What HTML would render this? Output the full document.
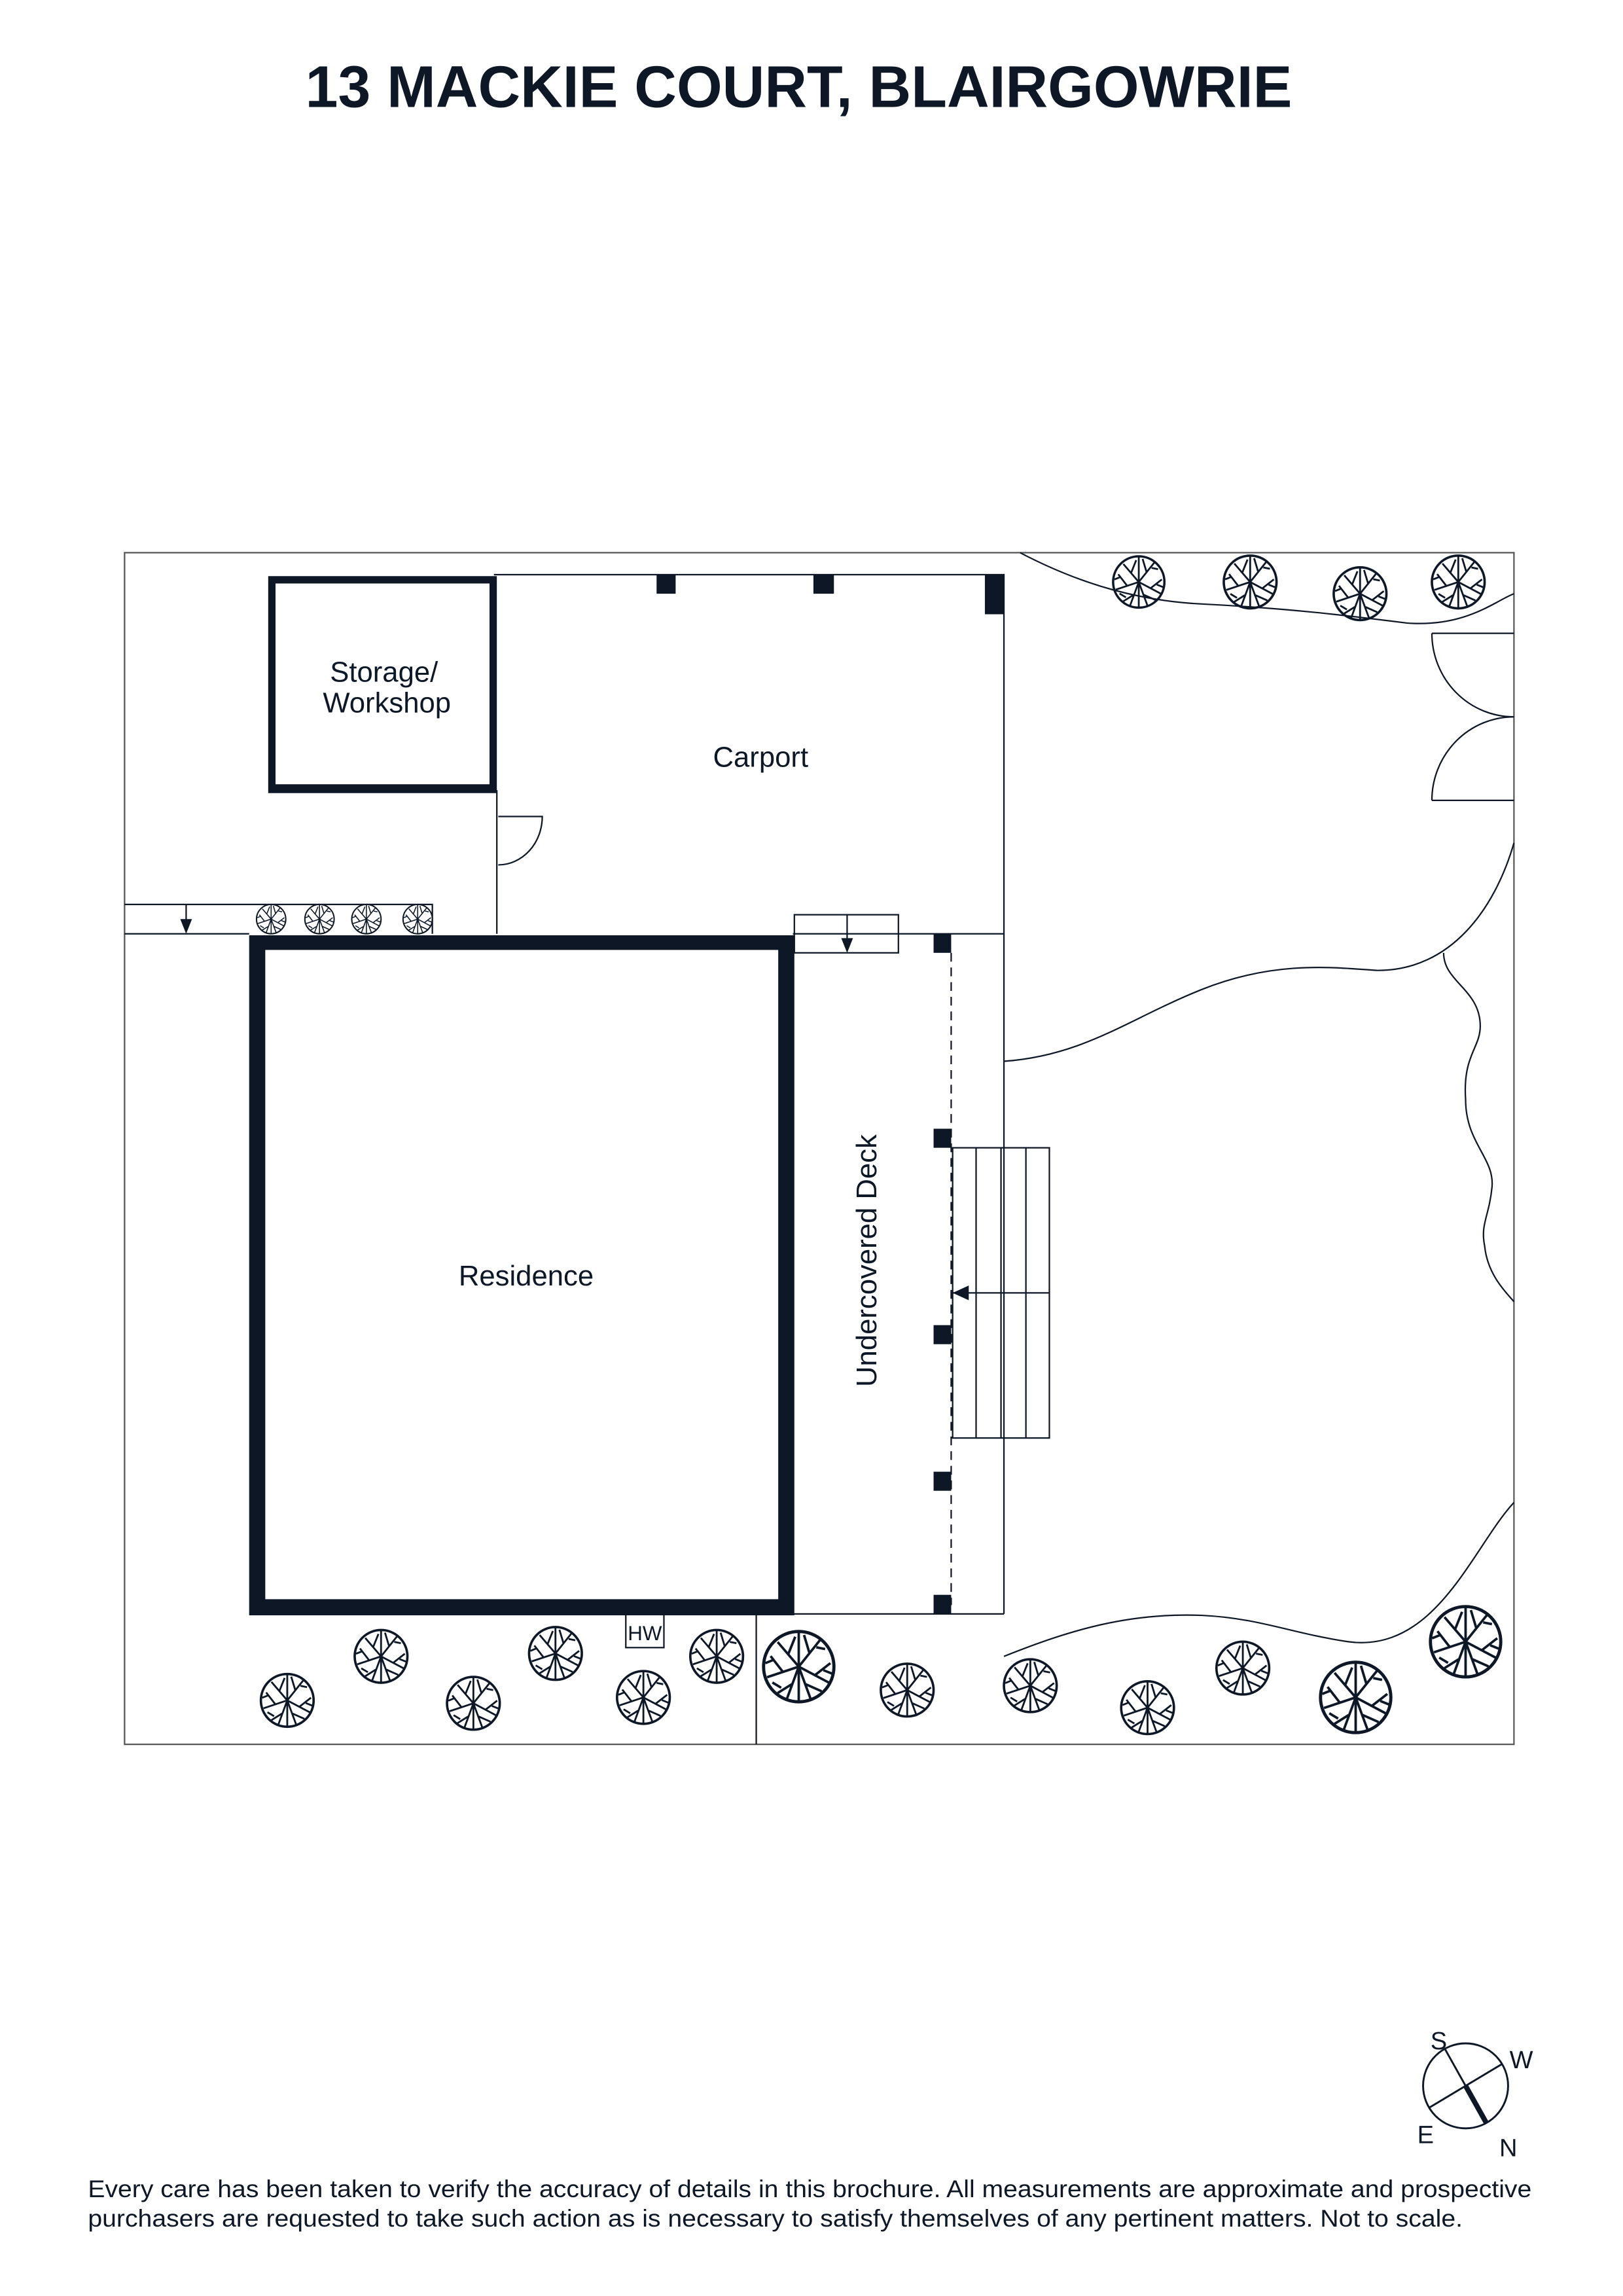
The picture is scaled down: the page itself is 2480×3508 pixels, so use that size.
<!DOCTYPE html>
<html><head><meta charset="utf-8"><style>
html,body{margin:0;padding:0;background:#fff;}
svg{display:block;}
</style></head><body>
<svg width="2480" height="3508" viewBox="0 0 1107.4 1566.3" xmlns="http://www.w3.org/2000/svg" font-family="Liberation Sans, sans-serif">
<defs>
<g id="tree">
<circle cx="0" cy="0" r="1" fill="none" stroke="#0d1726" stroke-width="0.09"/>
<path d="M0,-1 L0,1 M0,0 L-0.6,-0.7 M0,0 L0.6,-0.75 M0,0 L-0.9,0.3 M0,0 L0.85,0.45 M0,0 L-0.35,0.95 M0,0 L0.35,0.95 M-0.3,-0.35 L-0.1,-0.85 M0.3,-0.4 L0.15,-0.9 M-0.45,0.15 L-0.8,-0.3 M0.45,0.25 L0.9,-0.1 M-0.2,0.5 L-0.6,0.75 M0.2,0.5 L0.65,0.7 M-0.7,-0.2 L-0.95,-0.1 M0.7,0.1 L0.95,0.2 M-0.5,0.6 L-0.75,0.45 M0.5,-0.55 L0.75,-0.5" fill="none" stroke="#0d1726" stroke-width="0.07"/>
</g>
</defs>
<text x="545" y="73" text-anchor="middle" font-size="40" font-weight="bold" fill="#0d1726">13 MACKIE COURT, BLAIRGOWRIE</text>

<g fill="none" stroke="#0d1726" stroke-width="1">
<rect x="85" y="377" width="948" height="813" stroke="#555" stroke-width="1"/>
<path d="M337,392 H685 V1101"/>
<path d="M339,539 V637"/>
<path d="M85,617 H295 V637"/>
<path d="M85,637 H170"/>
<path d="M541,637 H685"/>
<path d="M541,1101 H685"/>
<path d="M516,1101 V1190"/>
<path d="M340,557 H370 A30,33 0 0 1 340,590"/>
<rect x="542" y="624" width="71" height="26"/>
<path d="M578,624 V645"/>
<path d="M127,617 V632"/>
<path d="M649,650 V1095" stroke-dasharray="6,4"/>
<rect x="650" y="783" width="66" height="198"/>
<path d="M666,783 V981 M683,783 V981 M700,783 V981 M650,882 H716"/>
<rect x="427" y="1101" width="26" height="23"/>
<path d="M977,432 H1033 M977,546 H1033"/>
<path d="M977,432 A56,57 0 0 0 1033,489 A56,57 0 0 0 977,546"/>
<path d="M696,377 C740,400 780,410 820,412 C880,415 920,420 960,425 C1000,428 1020,410 1033,405"/>
<path d="M685,724 C740,720 770,695 820,675 C870,655 910,660 940,662 C990,662 1020,620 1033,575"/>
<path d="M985,650 C985,670 1010,675 1010,700 C1010,715 998,720 1000,750 C1000,780 1020,790 1018,810 C1016,830 1010,835 1013,850 C1015,870 1028,882 1033,888"/>
<path d="M685,1130 C730,1112 770,1100 820,1102 C860,1104 880,1114 920,1120 C980,1128 1005,1055 1033,1025"/>
</g>

<g fill="#0d1726">
<path fill-rule="evenodd" d="M183,393 H339 V541 H183 Z M188,398 V535 H334 V398 Z"/>
<path fill-rule="evenodd" d="M170,638 H542 V1102 H170 Z M181,648 V1091 H531 V648 Z"/>
<rect x="448" y="392" width="13" height="13"/>
<rect x="555" y="392" width="14" height="13"/>
<rect x="672" y="392" width="13" height="27"/>
<rect x="637" y="637" width="12" height="13"/>
<rect x="637" y="770" width="12" height="13"/>
<rect x="637" y="904" width="12" height="13"/>
<rect x="637" y="1004" width="12" height="13"/>
<rect x="637" y="1088" width="12" height="13"/>
<path d="M123,627 L131,627 L127,637 Z"/>
<path d="M574,640 L582,640 L578,650 Z"/>
<path d="M650,882 L661,877 L661,887 Z"/>
</g>

<g>
<use href="#tree" transform="translate(777,397) scale(17.5)"/>
<use href="#tree" transform="translate(853,397) scale(18)"/>
<use href="#tree" transform="translate(928,405) scale(18)"/>
<use href="#tree" transform="translate(995,397) scale(18)"/>
<use href="#tree" transform="translate(185,627) scale(10)"/>
<use href="#tree" transform="translate(218,627) scale(10)"/>
<use href="#tree" transform="translate(250,627) scale(10)"/>
<use href="#tree" transform="translate(285,627) scale(10)"/>
<use href="#tree" transform="translate(196,1160) scale(18)"/>
<use href="#tree" transform="translate(260,1130) scale(18)"/>
<use href="#tree" transform="translate(323,1162) scale(18)"/>
<use href="#tree" transform="translate(379,1128) scale(18)"/>
<use href="#tree" transform="translate(439,1158) scale(18)"/>
<use href="#tree" transform="translate(489,1130) scale(18)"/>
<use href="#tree" transform="translate(545,1137) scale(24)"/>
<use href="#tree" transform="translate(619,1153) scale(18)"/>
<use href="#tree" transform="translate(703,1150) scale(18)"/>
<use href="#tree" transform="translate(783,1165) scale(18)"/>
<use href="#tree" transform="translate(848,1138) scale(18)"/>
<use href="#tree" transform="translate(925,1158) scale(24)"/>
<use href="#tree" transform="translate(1000,1120) scale(24)"/>
</g>

<g fill="#0d1726" font-size="19.5">
<text x="262" y="465" text-anchor="middle">Storage/</text>
<text x="264" y="486" text-anchor="middle">Workshop</text>
<text x="519" y="523" text-anchor="middle">Carport</text>
<text x="359" y="877" text-anchor="middle">Residence</text>
<text transform="translate(598,860) rotate(-90)" text-anchor="middle" font-size="19.5">Undercovered Deck</text>
<text x="440" y="1119" text-anchor="middle" font-size="14">HW</text>
</g>

<g stroke="#0d1726" fill="none">
<circle cx="1000" cy="1423" r="29" stroke-width="1.3"/>
<path d="M986,1398 L1014,1448" stroke-width="1.3"/>
<path d="M1000,1423 L1014,1448" stroke-width="3.5"/>
<path d="M975,1438 L1025,1408" stroke-width="1.3"/>
</g>
<g fill="#0d1726" font-size="17">
<text x="976" y="1398">S</text>
<text x="1030" y="1411">W</text>
<text x="967" y="1462">E</text>
<text x="1023" y="1471">N</text>
</g>

<g fill="#0d1726" font-size="16.5">
<text x="60" y="1499" textLength="985" lengthAdjust="spacingAndGlyphs">Every care has been taken to verify the accuracy of details in this brochure. All measurements are approximate and prospective</text>
<text x="60" y="1519" textLength="938" lengthAdjust="spacingAndGlyphs">purchasers are requested to take such action as is necessary to satisfy themselves of any pertinent matters. Not to scale.</text>
</g>
</svg>
</body></html>
